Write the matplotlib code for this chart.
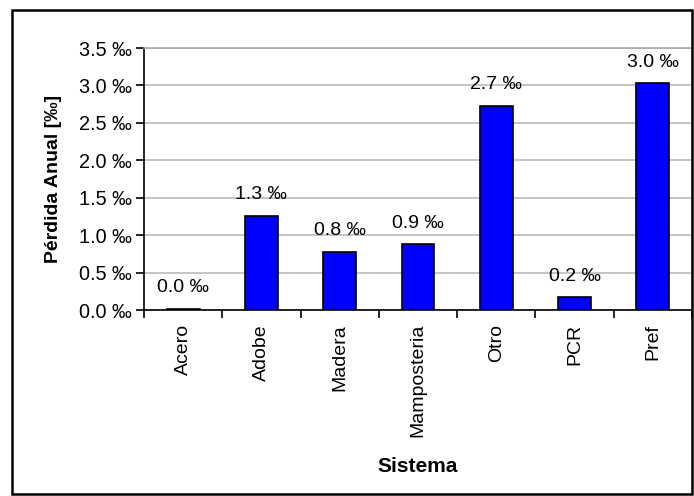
import matplotlib.pyplot as plt
from matplotlib.patches import Rectangle

plt.rcParams['font.family'] = ['Liberation Sans', 'DejaVu Sans']

sistemas = ['Acero', 'Adobe', 'Madera', 'Mamposteria', 'Otro', 'PCR', 'Pref']
perdida = [0.02, 1.26, 0.78, 0.88, 2.73, 0.17, 3.03]
yticks = [0.0, 0.5, 1.0, 1.5, 2.0, 2.5, 3.0, 3.5]

fig = plt.figure(figsize=(6.94, 4.96), dpi=100)
ax = fig.add_axes([144/694, 1-310/496, (692-144)/694, (310-48)/496])

x = list(range(len(sistemas)))
ax.bar(x, perdida, width=0.42, color='#0000ff', edgecolor='black', linewidth=1.2, zorder=3)

for xi, v in zip(x, perdida):
    ax.annotate('%.1f ‰' % v, (xi, v), xytext=(0, 9), textcoords='offset points',
                ha='center', va='bottom', fontsize=14)

ax.set_xlim(-0.5, len(sistemas) - 0.5)
ax.set_ylim(0, 3.5)
ax.set_yticks(yticks)
ax.set_yticklabels(['%.1f ‰' % t for t in yticks], fontsize=14.3)
ax.set_xticks(x)
ax.set_xticklabels(sistemas, rotation=90, fontsize=14)
ax.tick_params(axis='x', length=0, pad=10)
ax.set_xticks([i + 0.5 for i in range(-1, len(sistemas))], minor=True)
ax.tick_params(axis='x', which='minor', length=6, width=1.2, direction='out')
ax.tick_params(axis='y', length=6, width=1.2, direction='out', pad=3)

ax.grid(axis='y', color='#bbbbbb', linewidth=1.2, zorder=0)
for s in ['top', 'right']:
    ax.spines[s].set_color('#aaaaaa')
    ax.spines[s].set_linewidth(1.2)
for s in ['left', 'bottom']:
    ax.spines[s].set_linewidth(1.2)

ax.set_ylabel('Pérdida Anual [‰]', fontsize=14, fontweight='bold', labelpad=12)
ax.set_xlabel('Sistema', fontsize=15, fontweight='bold', labelpad=14)

fig.patches.append(Rectangle((12/694, 2/496), 680/694, 484/496, transform=fig.transFigure,
                             fill=False, edgecolor='black', linewidth=1.8))

fig.savefig('out.png', dpi=100)
